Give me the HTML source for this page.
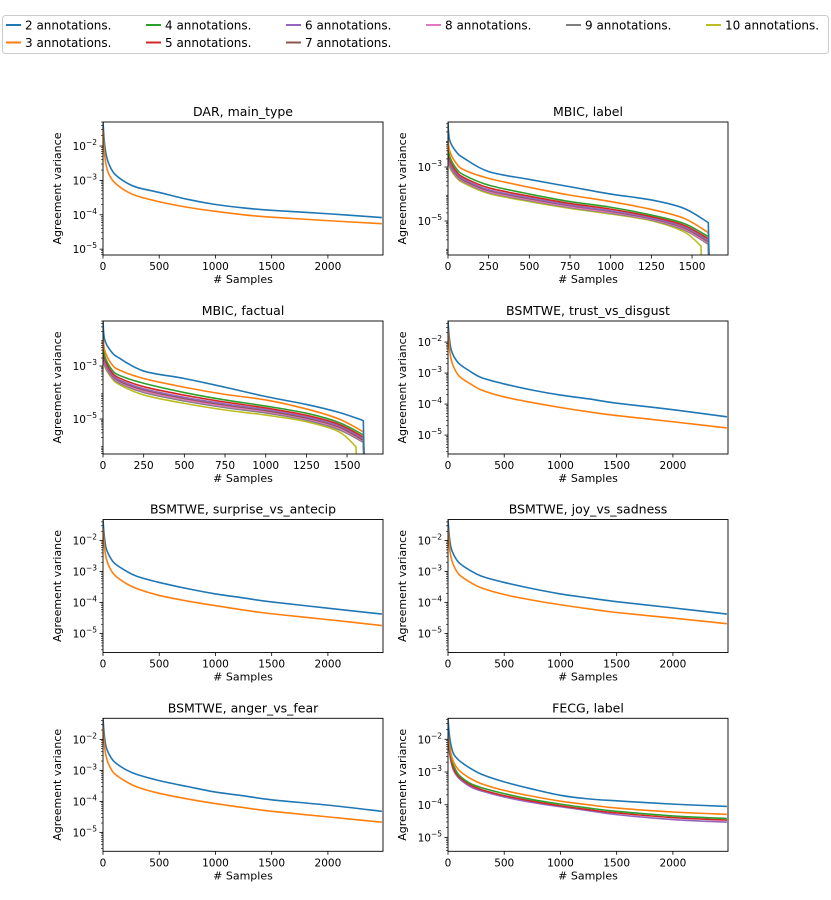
<!DOCTYPE html>
<html><head><meta charset="utf-8">
<style>
html,body{margin:0;padding:0;background:#fff;}
svg{display:block;font-family:"DejaVu Sans","Liberation Sans",sans-serif;}
</style></head>
<body>
<svg id="fig" width="831" height="900" viewBox="0 0 831 900" xmlns="http://www.w3.org/2000/svg">
  <g id="legend">
    <rect x="2.5" y="15.5" width="826" height="38" rx="3" fill="#fff" stroke="#ccc" stroke-width="1"/>
  </g>
</svg>
<script>
// ---------- data ----------
const seriesNames = ["2 annotations.","3 annotations.","4 annotations.","5 annotations.","6 annotations.","7 annotations.","8 annotations.","9 annotations.","10 annotations."];
const seriesColors = ["#1f77b4","#ff7f0e","#2ca02c","#d62728","#9467bd","#8c564b","#e377c2","#7f7f7f","#bcbd22"];

const xLong = [0,10,25,50,100,200,300,500,750,1000,1250,1500,2000,2480];
const xMbic = [0,10,50,100,250,500,750,1000,1250,1450,1600,1607];
const xMbicLast = [0,10,50,100,250,500,750,1000,1250,1450,1555,1560];

// log10 values
const darBlue   = [-1.3,-1.8,-2.2,-2.5,-2.8,-3.05,-3.2,-3.35,-3.55,-3.7,-3.8,-3.87,-3.97,-4.08];
const darOrange = [-1.5,-2.1,-2.5,-2.8,-3.05,-3.3,-3.45,-3.62,-3.78,-3.9,-4.0,-4.07,-4.17,-4.26];

const trustBlue   = [-1.32,-1.8,-2.2,-2.45,-2.7,-2.95,-3.15,-3.35,-3.55,-3.71,-3.83,-3.97,-4.18,-4.41];
const trustOrange = [-1.6,-2.1,-2.5,-2.8,-3.1,-3.35,-3.55,-3.77,-3.95,-4.11,-4.25,-4.37,-4.57,-4.77];
const surpBlue    = [-1.32,-1.8,-2.2,-2.45,-2.72,-2.97,-3.15,-3.35,-3.55,-3.72,-3.85,-3.98,-4.18,-4.37];
const surpOrange  = [-1.6,-2.1,-2.5,-2.8,-3.1,-3.37,-3.55,-3.77,-3.95,-4.1,-4.24,-4.36,-4.55,-4.74];
const joyBlue     = [-1.32,-1.8,-2.2,-2.45,-2.72,-2.97,-3.15,-3.35,-3.55,-3.72,-3.85,-3.97,-4.17,-4.37];
const joyOrange   = [-1.6,-2.1,-2.5,-2.8,-3.1,-3.35,-3.53,-3.74,-3.92,-4.07,-4.2,-4.32,-4.5,-4.68];
const angerBlue   = [-1.32,-1.8,-2.2,-2.45,-2.72,-2.97,-3.13,-3.33,-3.52,-3.7,-3.82,-3.95,-4.12,-4.32];
const angerOrange = [-1.6,-2.1,-2.5,-2.8,-3.1,-3.35,-3.53,-3.74,-3.92,-4.07,-4.2,-4.32,-4.5,-4.67];

const fecgBlue   = [-1.36,-1.8,-2.15,-2.45,-2.65,-2.89,-3.07,-3.30,-3.52,-3.71,-3.82,-3.88,-3.98,-4.05];
const fecgOrange = [-1.6,-2.0,-2.4,-2.7,-2.95,-3.2,-3.36,-3.56,-3.74,-3.89,-4.0,-4.1,-4.22,-4.29];
const fecgGreen  = [-1.7,-2.1,-2.5,-2.8,-3.1,-3.35,-3.48,-3.66,-3.84,-3.98,-4.1,-4.2,-4.34,-4.42];
const fecgRed    = [-1.8,-2.2,-2.6,-2.9,-3.15,-3.4,-3.54,-3.72,-3.89,-4.03,-4.15,-4.25,-4.39,-4.47];
const fecgPurple = [-1.85,-2.3,-2.65,-2.95,-3.2,-3.45,-3.58,-3.76,-3.93,-4.06,-4.18,-4.3,-4.45,-4.53];

const labelS2  = [-1.33,-2.0,-2.43,-2.68,-3.17,-3.46,-3.73,-4.0,-4.22,-4.53,-5.06,-7];
const labelS3  = [-1.9,-2.4,-2.86,-3.11,-3.42,-3.75,-4.04,-4.28,-4.57,-4.9,-5.43,-7];
const labelS4  = [-2.1,-2.6,-3.05,-3.30,-3.67,-4.0,-4.28,-4.49,-4.78,-5.09,-5.58,-7];
const labelS5  = [-2.2,-2.7,-3.15,-3.40,-3.77,-4.08,-4.35,-4.56,-4.84,-5.16,-5.66,-7];
const labelS6  = [-2.3,-2.8,-3.22,-3.46,-3.84,-4.14,-4.41,-4.62,-4.89,-5.22,-5.73,-7];
const labelS7  = [-2.3,-2.85,-3.26,-3.5,-3.87,-4.17,-4.43,-4.64,-4.91,-5.25,-5.77,-7];
const labelS8  = [-2.4,-2.9,-3.3,-3.53,-3.91,-4.21,-4.47,-4.68,-4.94,-5.29,-5.82,-7];
const labelS9  = [-2.45,-2.95,-3.34,-3.56,-3.94,-4.24,-4.50,-4.71,-4.96,-5.33,-5.86,-7];
const labelS10 = [-2.5,-3.0,-3.38,-3.60,-3.98,-4.28,-4.53,-4.74,-4.99,-5.40,-5.93,-7];

const factS2  = [-1.3,-2.0,-2.45,-2.7,-3.19,-3.47,-3.80,-4.15,-4.45,-4.75,-5.06,-7];
const factS3  = [-1.8,-2.4,-2.9,-3.15,-3.47,-3.80,-4.07,-4.28,-4.62,-5.0,-5.48,-7];
const factS4  = [-2.0,-2.6,-3.1,-3.35,-3.65,-4.0,-4.28,-4.51,-4.78,-5.13,-5.6,-7];
const factS5  = [-2.1,-2.7,-3.2,-3.45,-3.78,-4.1,-4.36,-4.58,-4.86,-5.2,-5.68,-7];
const factS6  = [-2.2,-2.8,-3.27,-3.52,-3.86,-4.18,-4.43,-4.64,-4.92,-5.26,-5.75,-7];
const factS7  = [-2.25,-2.85,-3.3,-3.56,-3.9,-4.22,-4.47,-4.68,-4.96,-5.3,-5.8,-7];
const factS8  = [-2.3,-2.9,-3.34,-3.6,-3.95,-4.27,-4.52,-4.72,-5.0,-5.35,-5.84,-7];
const factS9  = [-2.35,-2.95,-3.38,-3.64,-4.0,-4.32,-4.57,-4.77,-5.04,-5.4,-5.88,-7];
const factS10 = [-2.4,-3.0,-3.42,-3.7,-4.09,-4.41,-4.66,-4.85,-5.1,-5.48,-6.05,-7];

const ticksLong = [0,500,1000,1500,2000];
const ticksMbic = [0,250,500,750,1000,1250,1500];
const yTicksWide = [-2,-3,-4,-5];
const yTicksMbic = [-3,-5];

// ---------- drawing ----------
const NS = "http://www.w3.org/2000/svg";
const svg = document.getElementById('fig');
function mk(tag, attrs, parent){const e=document.createElementNS(NS,tag);for(const k in attrs)e.setAttribute(k,attrs[k]);(parent||svg).appendChild(e);return e;}

// smooth path through points (Catmull-Rom); last segment straight if drop
function smoothPath(pts, straightLast){
  let d = 'M'+pts[0][0].toFixed(2)+','+pts[0][1].toFixed(2);
  const n = pts.length;
  const lim = straightLast ? n-2 : n-1;
  for (let i=0;i<lim;i++){
    const p0 = pts[Math.max(0,i-1)], p1 = pts[i], p2 = pts[i+1], p3 = pts[Math.min(lim,i+2)];
    const c1x = p1[0]+(p2[0]-p0[0])/6, c1y = p1[1]+(p2[1]-p0[1])/6;
    const c2x = p2[0]-(p3[0]-p1[0])/6, c2y = p2[1]-(p3[1]-p1[1])/6;
    d += ' C'+c1x.toFixed(2)+','+c1y.toFixed(2)+' '+c2x.toFixed(2)+','+c2y.toFixed(2)+' '+p2[0].toFixed(2)+','+p2[1].toFixed(2);
  }
  if (straightLast) d += ' L'+pts[n-1][0].toFixed(2)+','+pts[n-1][1].toFixed(2);
  return d;
}

// legend
const legend = document.getElementById('legend');
seriesNames.forEach((n,i)=>{
  const col = [0,0,1,1,2,2,3,4,5][i], row = [0,1,0,1,0,1,0,0,0][i];
  const lx = 6 + col*140, ly = 25 + row*17.5;
  const g = mk('g',{},legend);
  
  
  mk('line',{x1:lx,y1:ly,x2:lx+15,y2:ly,stroke:seriesColors[i],'stroke-width':2},g);
  const t = mk('text',{x:lx+19,y:ly+4.5,'font-size':12,fill:'#000'},g);
  t.textContent = n;
});

const W = 280, H = 133;
const panels = [
 {title:"DAR, main_type", x0:103, y0:122, xmax:2490, ylo:-5.17, yhi:-1.3, xt:ticksLong, yt:yTicksWide, series:[[xLong,darBlue,0],[xLong,darOrange,1]]},
 {title:"MBIC, label", x0:448, y0:122, xmax:1721, ylo:-6.26, yhi:-1.33, xt:ticksMbic, yt:yTicksMbic, drop:true,
   series:[[xMbic,labelS10,8,true],[xMbic,labelS9,7],[xMbic,labelS8,6],[xMbic,labelS7,5],[xMbic,labelS6,4],[xMbic,labelS5,3],[xMbic,labelS4,2],[xMbic,labelS3,1],[xMbic,labelS2,0]]},
 {title:"MBIC, factual", x0:103, y0:321, xmax:1721, ylo:-6.32, yhi:-1.3, xt:ticksMbic, yt:yTicksMbic, drop:true,
   series:[[xMbic,factS10,8,true],[xMbic,factS9,7],[xMbic,factS8,6],[xMbic,factS7,5],[xMbic,factS6,4],[xMbic,factS5,3],[xMbic,factS4,2],[xMbic,factS3,1],[xMbic,factS2,0]]},
 {title:"BSMTWE, trust_vs_disgust", x0:448, y0:321, xmax:2490, ylo:-5.61, yhi:-1.32, xt:ticksLong, yt:yTicksWide, series:[[xLong,trustBlue,0],[xLong,trustOrange,1]]},
 {title:"BSMTWE, surprise_vs_antecip", x0:103, y0:519.5, xmax:2490, ylo:-5.61, yhi:-1.32, xt:ticksLong, yt:yTicksWide, series:[[xLong,surpBlue,0],[xLong,surpOrange,1]]},
 {title:"BSMTWE, joy_vs_sadness", x0:448, y0:519.5, xmax:2490, ylo:-5.61, yhi:-1.32, xt:ticksLong, yt:yTicksWide, series:[[xLong,joyBlue,0],[xLong,joyOrange,1]]},
 {title:"BSMTWE, anger_vs_fear", x0:103, y0:718.3, xmax:2490, ylo:-5.61, yhi:-1.32, xt:ticksLong, yt:yTicksWide, series:[[xLong,angerBlue,0],[xLong,angerOrange,1]]},
 {title:"FECG, label", x0:448, y0:718.3, xmax:2490, ylo:-5.42, yhi:-1.36, xt:ticksLong, yt:yTicksWide,
   series:[[xLong,fecgPurple,4],[xLong,fecgRed,3],[xLong,fecgGreen,2],[xLong,fecgOrange,1],[xLong,fecgBlue,0]]}
];
const supMap = {"-2":"−2","-3":"−3","-4":"−4","-5":"−5"};

panels.forEach((p,pi)=>{
  const g = mk('g',{});
  
  
  const sx = v => p.x0 + v/p.xmax*W;
  const sy = l => p.y0 + (p.yhi - l)/(p.yhi - p.ylo)*H;
  const cid = 'clip'+pi;
  const cp = mk('clipPath',{id:cid},g);
  mk('rect',{x:p.x0,y:p.y0,width:W,height:H},cp);
  const lines = mk('g',{'clip-path':'url(#'+cid+')'},g);
  p.series.forEach(s=>{
    let xs = s[0];
    if (s[3]) xs = xMbicLast;
    const pts = s[1].map((v,i)=>[sx(xs[i]), sy(v)]);
    const pl = mk('path',{d:smoothPath(pts, !!p.drop),fill:'none',stroke:seriesColors[s[2]],'stroke-width':1.6,'stroke-linejoin':'round'},lines);
    
    
  });
  mk('rect',{x:p.x0,y:p.y0,width:W,height:H,fill:'none',stroke:'#000','stroke-width':0.9},g);
  p.xt.forEach(v=>{
    const x = sx(v);
    mk('line',{x1:x,y1:p.y0+H,x2:x,y2:p.y0+H+3.5,stroke:'#000','stroke-width':0.8},g);
    const t = mk('text',{x:x,y:p.y0+H+15,'font-size':10.5,'text-anchor':'middle'},g);
    
    
    t.textContent = v;
  });
  for (let d=Math.floor(p.ylo); d<Math.ceil(p.yhi); d++){
    for (let m=2;m<=9;m++){
      const l = d + Math.log10(m);
      if (l<p.ylo||l>p.yhi) continue;
      const y = sy(l);
      mk('line',{x1:p.x0,y1:y,x2:p.x0-2,y2:y,stroke:'#000','stroke-width':0.6},g);
    }
  }
  p.yt.forEach(l=>{
    const y = sy(l);
    mk('line',{x1:p.x0,y1:y,x2:p.x0-3.5,y2:y,stroke:'#000','stroke-width':0.8},g);
    const t = mk('text',{x:p.x0-6,y:y+4,'font-size':10.5,'text-anchor':'end'},g);
    
    
    t.appendChild(document.createTextNode('10'));
    const ts = mk('tspan',{'font-size':7.5,dy:-5},t);
    ts.textContent = supMap[String(l)];
  });
  const title = mk('text',{x:p.x0+W/2,y:p.y0-6,'font-size':12.5,'text-anchor':'middle'},g);
  
  
  title.textContent = p.title;
  const xl = mk('text',{x:p.x0+W/2,y:p.y0+H+28,'font-size':11,'text-anchor':'middle'},g);
  
  
  xl.textContent = '# Samples';
  const yx = p.x0-42, yy = p.y0+H/2;
  const yl = mk('text',{x:yx,y:yy,'font-size':11,'text-anchor':'middle',transform:'rotate(-90 '+yx+' '+yy+')'},g);
  
  
  yl.textContent = 'Agreement variance';
});
</script>
</body></html>
